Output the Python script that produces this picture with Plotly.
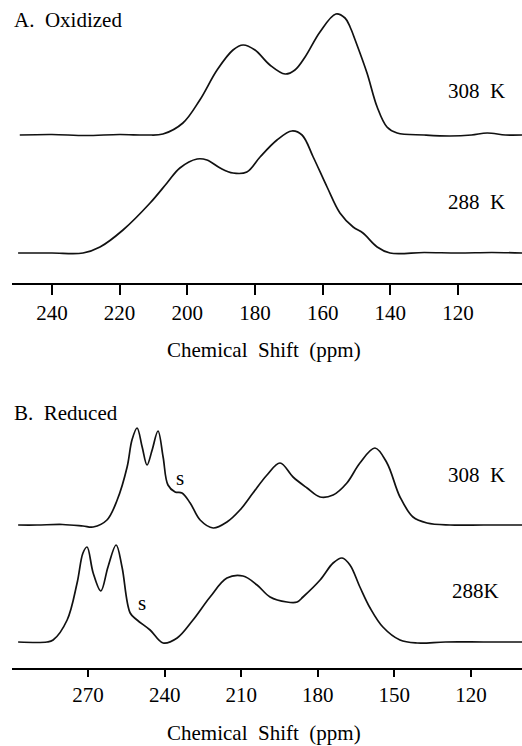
import plotly.graph_objects as go

# ---------------- data (ppm, intensity above own baseline) ----------------
# Panel A: Oxidized
ox308_ppm = [249.5, 240, 230, 220, 212, 207.2, 201.3, 196.3, 191.2, 186.5, 183.5, 180, 175.6,
             171.1, 168.2, 165.2, 160.8, 156.1, 153.4, 151.9, 150.4, 146.9, 143.9, 141, 138,
             130, 122.4, 116, 111.4, 106, 101]
ox308_int = [0, 0.5, -0.5, 0.5, 0, 1, 12, 35, 65, 85, 90, 85, 70,
             61, 65, 78, 103, 121, 117, 108, 95, 62, 28, 8, 2,
             0, -1, 0, 2, 0, 0]

ox288_ppm = [250, 240, 230.8, 225.8, 219, 211, 206, 202.2, 197.1, 194.2, 190.3, 186.5, 182.4,
             178.5, 173.5, 169.1, 166.1, 162.8, 158.7, 154.9, 151, 148.1, 143.9, 140.1,
             130, 120, 110, 101]
ox288_int = [0, 0, 0, 6, 23, 50, 70, 85, 94, 93, 85, 80, 81,
             96, 113, 122, 118, 96, 66, 40, 26, 20, 6, 0,
             0.5, 0, 0.5, 0]

# Panel B: Reduced
red308_ppm = [297.4, 290, 280, 272, 268, 262.6, 258.6, 254.7, 252.8, 250.8, 248.8, 246.9, 244.9,
              242.6, 240.6, 238.7, 235.9, 233.2, 230, 226.1, 221, 215.6, 210.5, 205.4, 199.9,
              194.8, 189.7, 184.2, 179.1, 174, 168.6, 163.5, 157.6, 152.9, 147.8, 142.7, 137.2,
              128.2, 115, 100]
red308_int = [0, 0, 0.5, -1, -2, 5, 25, 58, 85, 97, 78, 60, 75,
              94, 68, 40, 33, 32, 22, 5, -3, 3, 15, 32, 50,
              62, 48, 37, 28, 30, 42, 62, 77, 62, 28, 8, 2,
              0, 0, 0]

red288_ppm = [297.4, 286.1, 283.7, 278.2, 274.3, 272, 270.4, 268, 265, 262.2, 259, 256.7, 253.5,
              250.8, 245.7, 240.6, 235.1, 228.9, 222.2, 215.6, 209.3, 203.8, 198.7, 192.1,
              188.1, 185.8, 179.1, 174, 170.5, 167.4, 163.5, 159.5, 154.5, 147.8, 141.1,
              130, 115, 100]
red288_int = [0, 0, 2, 22, 59, 89, 95, 69, 51, 75, 97, 75, 29,
              22, 12, -1, 4, 22, 45, 64, 66, 57, 45, 40,
              40, 45, 62, 79, 84, 77, 55, 34, 15, 2, -1,
              0, 0, 0]

ticks_a = [240, 220, 200, 180, 160, 140, 120]
ticks_b = [270, 240, 210, 180, 150, 120]

# ---------------- layout helpers ----------------
W, H = 522, 746
FONT = "Liberation Serif, Times New Roman, serif"


def py(y):
    return 1 - y / H


def px(x):
    return x / W


off_a308, off_a288 = 148, 30
off_b308, off_b288 = 143, 26

fig = go.Figure()
line = dict(color="#111111", width=1.7, shape="spline", smoothing=1.0)
fig.add_trace(go.Scatter(x=ox308_ppm, y=[v + off_a308 for v in ox308_int], mode="lines",
                         line=line, xaxis="x", yaxis="y", hoverinfo="skip"))
fig.add_trace(go.Scatter(x=ox288_ppm, y=[v + off_a288 for v in ox288_int], mode="lines",
                         line=line, xaxis="x", yaxis="y", hoverinfo="skip"))
fig.add_trace(go.Scatter(x=red308_ppm, y=[v + off_b308 for v in red308_int], mode="lines",
                         line=line, xaxis="x2", yaxis="y2", hoverinfo="skip"))
fig.add_trace(go.Scatter(x=red288_ppm, y=[v + off_b288 for v in red288_int], mode="lines",
                         line=line, xaxis="x2", yaxis="y2", hoverinfo="skip"))

axis_common = dict(showline=True, linecolor="black", linewidth=2, ticks="outside",
                   tickwidth=1.5, tickcolor="black", showgrid=False,
                   zeroline=False, tickfont=dict(family=FONT, size=21, color="black"),
                   fixedrange=True)

fig.update_layout(
    width=W, height=H, margin=dict(l=0, r=0, t=0, b=0),
    paper_bgcolor="white", plot_bgcolor="white", showlegend=False,
    xaxis=dict(domain=[px(12), 1], range=[251.8, 101.1], tickvals=ticks_a, ticklen=10,
               anchor="y", **axis_common),
    yaxis=dict(domain=[py(283), 1], range=[0, 283], visible=False, fixedrange=True),
    xaxis2=dict(domain=[px(12), 1], range=[299.8, 100.0], tickvals=ticks_b, ticklen=7,
                anchor="y2", **axis_common),
    yaxis2=dict(domain=[py(668), py(380)], range=[0, 288], visible=False, fixedrange=True),
)

texts = [
    ("A.  Oxidized", 12, 20, "left"),
    ("308  K", 507, 91, "right"),
    ("288  K", 507, 202, "right"),
    ("Chemical  Shift  (ppm)", 264, 350, "center"),
    ("B.  Reduced", 12, 413, "left"),
    ("308  K", 507, 475, "right"),
    ("288K", 501, 591, "right"),
    ("s", 180, 478, "center"),
    ("s", 142, 603, "center"),
    ("Chemical  Shift  (ppm)", 264, 733, "center"),
]
for t, x, y, al in texts:
    fig.add_annotation(text=t, x=px(x), y=py(y), xref="paper", yref="paper",
                       xanchor=al, yanchor="middle", showarrow=False,
                       font=dict(family=FONT, size=21, color="black"))

fig.write_html("out.html")
